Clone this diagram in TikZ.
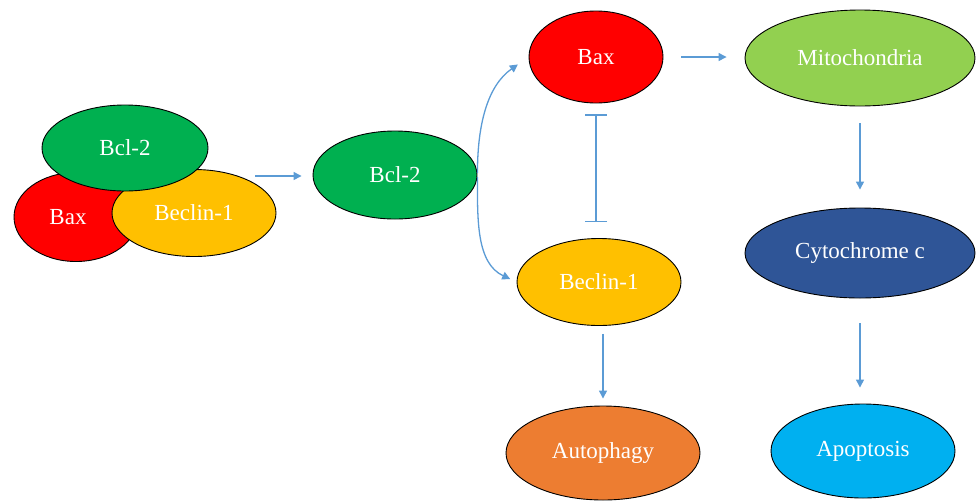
\documentclass[tikz,border=0pt]{standalone}
\usepackage{fontspec}
\setmainfont{Liberation Serif}
\usetikzlibrary{shapes.geometric,arrows.meta}
\definecolor{cred}{HTML}{FF0000}
\definecolor{cgreen}{HTML}{00B050}
\definecolor{cyellow}{HTML}{FFC000}
\definecolor{corange}{HTML}{ED7D31}
\definecolor{clgreen}{HTML}{92D050}
\definecolor{cdblue}{HTML}{2F5597}
\definecolor{clblue}{HTML}{00B0F0}
\definecolor{carrow}{HTML}{5B9BD5}
\tikzset{
  blob/.style={ellipse, draw=black, line width=0.9pt, inner sep=0pt, text=white,
    font=\fontsize{23}{26}\selectfont},
  arr/.style={draw=carrow, line width=1.3pt, -{Triangle[length=8pt,width=8pt]}},
  inhib/.style={draw=carrow, line width=1.3pt, {Bar[width=22pt]}-{Bar[width=22pt]}},
}
\begin{document}
\begin{tikzpicture}[x=1pt,y=-1pt]
\useasboundingbox (0,0) rectangle (977,501);
% left cluster
\node[blob, fill=cred, minimum width=124pt, minimum height=89pt] (baxL) at (76,217) {\hspace*{-8pt}Bax\hspace*{8pt}};
\node[blob, fill=cyellow, minimum width=164pt, minimum height=87pt] (beclinL) at (194,213) {Beclin-1};
\node[blob, fill=cgreen, minimum width=166pt, minimum height=86pt] (bcl2L) at (125,148) {Bcl-2};
\coordinate (clusterout) at (255,176);
% middle
\node[blob, fill=cgreen, minimum width=164pt, minimum height=88pt] (bcl2M) at (395,175) {Bcl-2};
\node[blob, fill=cred, minimum width=134pt, minimum height=92pt] (baxT) at (596,57) {Bax};
\node[blob, fill=cyellow, minimum width=164pt, minimum height=87pt] (beclinM) at (599,282) {Beclin-1};
\node[blob, fill=corange, minimum width=194pt, minimum height=94pt] (auto) at (603,453) {Autophagy};
% right
\node[blob, fill=clgreen, minimum width=230pt, minimum height=96pt] (mito) at (860,58) {Mitochondria};
\node[blob, fill=cdblue, minimum width=230pt, minimum height=90pt] (cyto) at (860,253) {Cytochrome c};
\node[blob, fill=clblue, minimum width=184pt, minimum height=94pt] (apop) at (863,451) {Apoptosis};
% connectors
\draw[arr] (clusterout) -- (clusterout -| bcl2M.west) [shorten >=11pt];
\draw[arr, shorten <=2pt, shorten >=13pt] (bcl2M.east) to[out=90, in=215] (baxT.west);
\draw[arr, shorten <=2pt, shorten >=7pt] (bcl2M.east) to[out=-90, in=155] (beclinM.west);
\draw[inhib, shorten <=11pt, shorten >=16pt] (baxT.south) -- (baxT.south |- beclinM.north);
\draw[arr, shorten <=18pt, shorten >=18pt] (baxT.east) -- (baxT.east -| mito.west);
\draw[arr, shorten <=17pt, shorten >=18pt] (mito.south) -- (mito.south |- cyto.north);
\draw[arr, shorten <=25pt, shorten >=16pt] (cyto.south) -- (cyto.south |- apop.north);
\draw[arr, shorten <=8pt, shorten >=7pt] (beclinM.south -| auto.north) -- (auto.north);
\end{tikzpicture}
\end{document}
